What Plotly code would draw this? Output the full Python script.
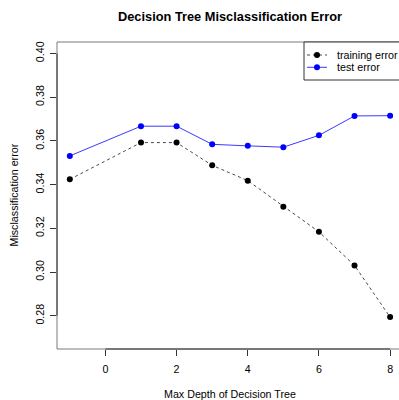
import plotly.graph_objects as go

# ---- data ----
max_depth = [-1, 1, 2, 3, 4, 5, 6, 7, 8]
training_error = [0.3424, 0.3592, 0.3592, 0.3488, 0.3418, 0.3299, 0.3184, 0.3030, 0.2794]
test_error = [0.3531, 0.3667, 0.3667, 0.3584, 0.3577, 0.3571, 0.3625, 0.3714, 0.3715]
x_ticks = [0, 2, 4, 6, 8]
y_ticks = [0.28, 0.30, 0.32, 0.34, 0.36, 0.38, 0.40]

W, H = 399, 400
L, T, B, R = 57, 42, 51, 0
pw, ph = W - L - R, H - T - B

def xp(px):
    return (px - L) / pw

def yp(py):
    return (H - B - py) / ph

FONT = "Liberation Sans, Arial, Helvetica, sans-serif"
FS = 10.7

fig = go.Figure()
fig.add_trace(go.Scatter(
    x=max_depth, y=training_error, mode="lines+markers", name="training error",
    line=dict(color="#333333", width=0.9, dash="3px,3px"),
    marker=dict(color="#000000", size=6), showlegend=False))
fig.add_trace(go.Scatter(
    x=max_depth, y=test_error, mode="lines+markers", name="test error",
    line=dict(color="#2222ff", width=0.9),
    marker=dict(color="#0000FF", size=6), showlegend=False))

shapes = []
box_col = "#7a7a7a"
ax_col = "#333333"
# plot box (right side falls outside the picture)
shapes.append(dict(type="line", xref="paper", yref="paper", x0=0, x1=1.05, y0=1, y1=1,
                   line=dict(color=box_col, width=1)))
shapes.append(dict(type="line", xref="paper", yref="paper", x0=0, x1=1.05, y0=0, y1=0,
                   line=dict(color=box_col, width=1)))
shapes.append(dict(type="line", xref="paper", yref="paper", x0=0, x1=0, y0=0, y1=1,
                   line=dict(color=box_col, width=1)))
# axis lines spanning tick range
shapes.append(dict(type="line", xref="x", yref="paper", x0=x_ticks[0], x1=x_ticks[-1], y0=0, y1=0,
                   line=dict(color=ax_col, width=1)))
shapes.append(dict(type="line", xref="paper", yref="y", x0=0, x1=0, y0=y_ticks[0], y1=y_ticks[-1],
                   line=dict(color=ax_col, width=1)))
# legend box
shapes.append(dict(type="rect", xref="paper", yref="paper", x0=xp(304), x1=1.05, y0=yp(80), y1=1,
                   line=dict(color=ax_col, width=1), fillcolor="white", layer="above"))
# legend symbols
for py, col, lcol, dash in [(55, "#000000", "#333333", "3px,3px"), (67.3, "#0000FF", "#2222ff", "solid")]:
    shapes.append(dict(type="line", xref="paper", yref="paper", x0=xp(307), x1=xp(327),
                       y0=yp(py), y1=yp(py), line=dict(color=lcol, width=0.9, dash=dash), layer="above"))
    shapes.append(dict(type="circle", xref="paper", yref="paper", x0=xp(314), x1=xp(320),
                       y0=yp(py + 3), y1=yp(py - 3), line=dict(color=col, width=0),
                       fillcolor=col, layer="above"))

annotations = [
    dict(text="<b>Decision Tree Misclassification Error</b>", xref="paper", yref="paper",
         x=xp(230), y=yp(17), xanchor="center", yanchor="middle", showarrow=False,
         font=dict(family=FONT, size=12.8, color="#000000")),
    dict(text="Max Depth of Decision Tree", xref="paper", yref="paper",
         x=xp(230), y=yp(394), xanchor="center", yanchor="middle", showarrow=False,
         font=dict(family=FONT, size=FS, color="#000000")),
    dict(text="Misclassification error", xref="paper", yref="paper", textangle=-90,
         x=xp(13), y=yp(195.5), xanchor="center", yanchor="middle", showarrow=False,
         font=dict(family=FONT, size=FS, color="#000000")),
    dict(text="training error", xref="paper", yref="paper",
         x=xp(335), y=yp(55), xanchor="left", yanchor="middle", showarrow=False,
         font=dict(family=FONT, size=FS, color="#000000")),
    dict(text="test error", xref="paper", yref="paper",
         x=xp(335), y=yp(67.3), xanchor="left", yanchor="middle", showarrow=False,
         font=dict(family=FONT, size=FS, color="#000000")),
]

fig.update_layout(
    width=W, height=H,
    margin=dict(l=L, r=R, t=T, b=B, pad=0),
    paper_bgcolor="white", plot_bgcolor="white",
    showlegend=False,
    shapes=shapes, annotations=annotations,
    font=dict(family=FONT, size=FS, color="#000000"),
    xaxis=dict(range=[-1.36, 8.25], tickmode="array", tickvals=x_ticks,
               ticktext=[str(v) for v in x_ticks],
               showgrid=False, zeroline=False, showline=False,
               ticks="outside", ticklen=6, tickcolor=ax_col, tickwidth=1,
               ticklabelstandoff=4,
               tickfont=dict(family=FONT, size=FS, color="#000000")),
    yaxis=dict(range=[0.2648, 0.4052], tickmode="array", tickvals=y_ticks,
               ticktext=[f"{v:.2f}" for v in y_ticks], tickangle=-90,
               showgrid=False, zeroline=False, showline=False,
               ticks="outside", ticklen=6, tickcolor=ax_col, tickwidth=1,
               ticklabelstandoff=2,
               tickfont=dict(family=FONT, size=FS, color="#000000")),
)

fig.write_html("out.html")
